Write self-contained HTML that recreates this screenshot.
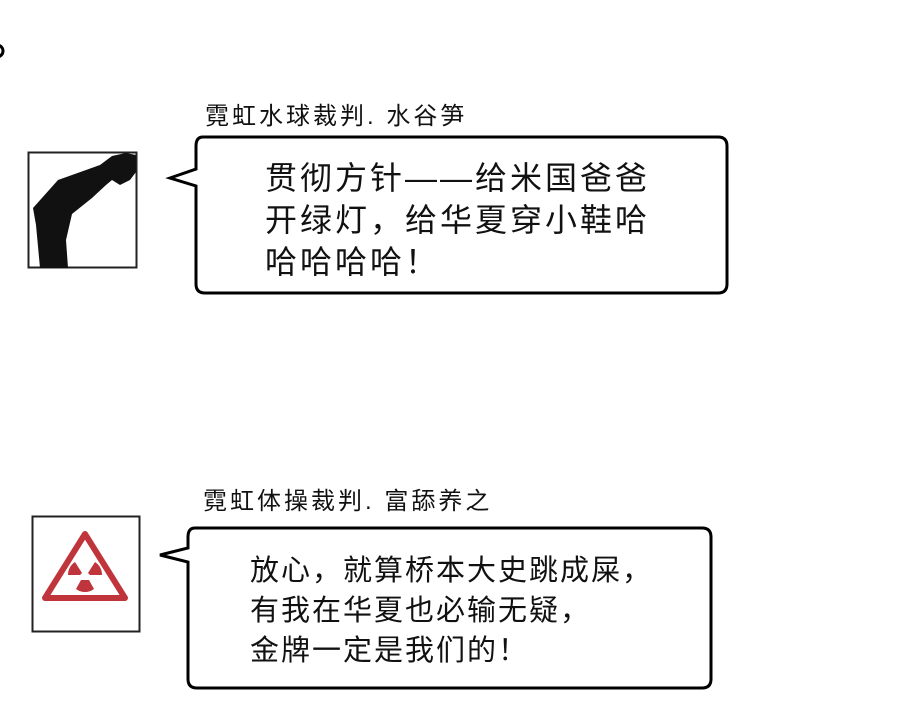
<!DOCTYPE html>
<html><head><meta charset="utf-8"><style>
body{margin:0;width:900px;height:703px;background:#fff;position:relative;overflow:hidden;font-family:"Liberation Sans","Noto Sans CJK SC",sans-serif;color:#111}
.t{position:absolute;white-space:nowrap}
.lab{font-size:24px;letter-spacing:3px}
.big{font-size:32px;line-height:42px;letter-spacing:3px}
</style></head><body>
<svg width="900" height="703" style="position:absolute;left:0;top:0">
<circle cx="-3" cy="51" r="6" fill="none" stroke="#000" stroke-width="3"/>
<rect x="28.5" y="152.5" width="108" height="115" fill="#fff" stroke="#222" stroke-width="2"/>
<path d="M126 153 L112 156 L100 165 L58 180 L33 208 L36 225 L40 268 L68 268 L66 240 L72 214 L92 198 L106 185 L112 180 L120 185 L130 180 L136 172 L136 155 Z" fill="#111"/>
<path d="M203 137 H718 Q727 137 727 146 V284 Q727 293 718 293 H205 Q196 293 196 284 V186 L170 178 L196 169 V146 Q196 137 203 137 Z" fill="#fff" stroke="#000" stroke-width="3"/>
<rect x="32.5" y="516.5" width="107" height="115" fill="#fff" stroke="#222" stroke-width="2"/>
<path d="M85 534 L125 598 L45 598 Z" fill="none" stroke="#c0343c" stroke-width="6" stroke-linejoin="round"/>
<path d="M82 573 L75 562 A15 15 0 0 0 68 575 L80 575 Z M88 573 L95 562 A15 15 0 0 1 102 575 L90 575 Z M81 580 L89 580 L94 589 A15 15 0 0 1 76 589 Z" fill="#c0343c"/>
<path d="M195 528 H702 Q711 528 711 537 V679 Q711 688 702 688 H197 Q188 688 188 679 V562 L160 555 L188 548 V537 Q188 528 195 528 Z" fill="#fff" stroke="#000" stroke-width="3"/>
</svg>
<div class="t lab" style="left:205px;top:96px">霓虹水球裁判. 水谷笋</div>
<div class="t big" style="left:265px;top:157px">贯彻方针——给米国爸爸<br>开绿灯，给华夏穿小鞋哈<br>哈哈哈哈！</div>
<div class="t lab" style="left:203px;top:481px">霓虹体操裁判. 富舔养之</div>
<div class="t big" style="left:250px;top:551px;line-height:40px;font-size:29px;letter-spacing:2px">放心，就算桥本大史跳成屎，<br>有我在华夏也必输无疑，<br>金牌一定是我们的！</div>
</body></html>
